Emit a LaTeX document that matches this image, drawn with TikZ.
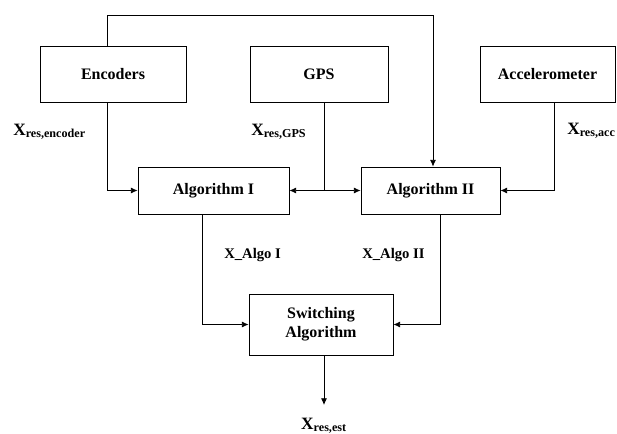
\documentclass[tikz,border=0pt]{standalone}
\usepackage{fontspec}
\setmainfont{Liberation Serif}
\usetikzlibrary{arrows.meta}
\begin{document}
\begin{tikzpicture}[
  x=0.75pt, y=-0.75pt,
  block/.style={rectangle, draw, line width=0.6pt, minimum height=42pt, align=center, font=\fontsize{12}{14}\selectfont\bfseries},
  edge/.style={draw, line width=0.6pt},
  arrow/.style={edge, -{Latex[length=5pt,width=4.5pt]}},
  signal/.style={anchor=base west, inner sep=0pt, font=\fontsize{13}{15}\selectfont\bfseries},
  output/.style={anchor=base west, inner sep=0pt, font=\fontsize{11}{13}\selectfont\bfseries}
]
\useasboundingbox (0,0) rectangle (617,433);

% Nodes
\node[block, minimum width=109.5pt] (enc) at (113,74) {Encoders};
\node[block, minimum width=103.5pt] (gps) at (319,74) {GPS};
\node[block, minimum width=101.25pt] (acc) at (547.5,74) {Accelerometer};
\node[block, minimum width=113.25pt, minimum height=35.25pt] (alg1) at (213.5,190.5) {Algorithm I};
\node[block, minimum width=104.25pt, minimum height=35.25pt] (alg2) at (430.5,190.5) {Algorithm II};
\node[block, minimum width=108pt, minimum height=45.75pt] (sw) at (321,324.5) {Switching\\Algorithm};

% Labels
\node[signal] (xenc) at (13,135) {X\textsubscript{res,encoder}};
\node[signal] (xgps) at (251,135) {X\textsubscript{res,GPS}};
\node[signal] (xacc) at (567,134) {X\textsubscript{res,acc}};
\node[output] (xa1) at (224,258) {X\_Algo I};
\node[output] (xa2) at (362,258) {X\_Algo II};
\node[signal, anchor=base] (xest) at (324,429.5) {X\textsubscript{res,est}};

% Edges
\coordinate (top) at (433,15);
\draw[arrow] ([xshift=-4.5pt]enc.north) |- (top) -- (top |- alg2.north);
\draw[arrow] ([xshift=-4.5pt]enc.south) |- (alg1.west);
\coordinate (gpsjoin) at ([xshift=3.75pt]gps.south |- alg1.east);
\draw[edge] ([xshift=3.75pt]gps.south) -- (gpsjoin);
\draw[arrow] (gpsjoin) -- (alg1.east);
\draw[arrow] (gpsjoin) -- (alg2.west);
\draw[arrow] ([xshift=4.9pt]acc.south) |- (alg2.east);

\draw[arrow] ([xshift=-8.6pt]alg1.south) |- (sw.west);
\draw[arrow] ([xshift=7.1pt]alg2.south) |- (sw.east);

\coordinate (out) at (324,405);
\draw[arrow] (sw.south -| out) -- (out);

\end{tikzpicture}
\end{document}
